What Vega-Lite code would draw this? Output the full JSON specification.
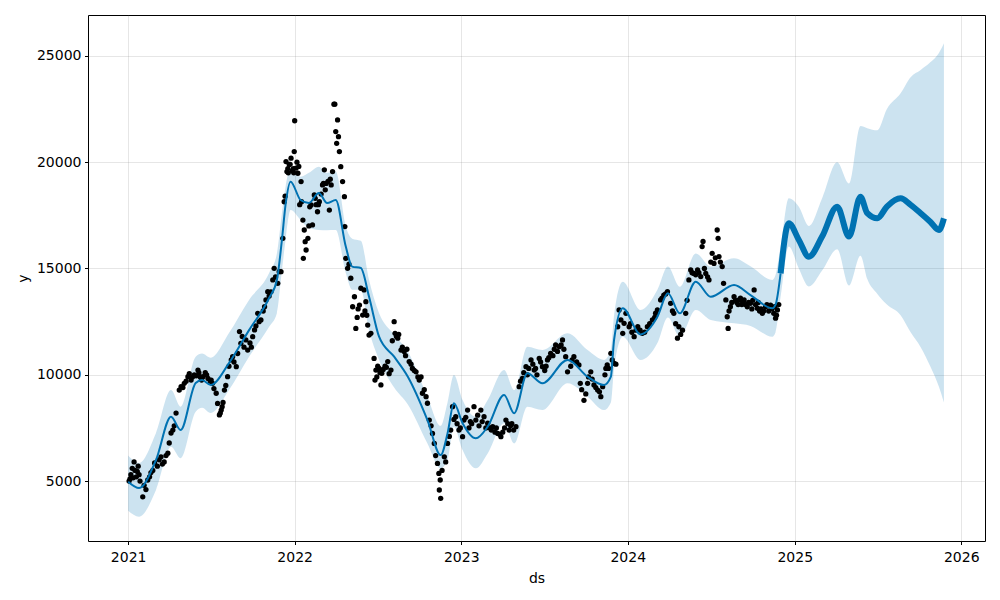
{
 "$schema": "https://vega.github.io/schema/vega-lite/v6.json",
 "width": 897, "height": 526,
 "autosize": {"type": "none"},
 "padding": {"left": 88, "top": 15, "right": 15, "bottom": 59},
 "background": "white",
 "config": {
  "view": {"stroke": "black", "strokeWidth": 1},
  "font": "DejaVu Sans",
  "axis": {"domain": false, "grid": true, "gridColor": "#808080", "gridOpacity": 0.2, "gridWidth": 1,
   "tickColor": "black", "tickSize": 3.5, "tickWidth": 1, "labelFontSize": 14, "labelColor": "black",
   "titleFontSize": 14, "titleFontWeight": "normal", "titleColor": "black", "labelFont": "DejaVu Sans", "titleFont": "DejaVu Sans"}
 },
 "datasets": {
  "obs": [
   {"ds":"2021-01-03","y":5000},{"ds":"2021-01-05","y":5100},{"ds":"2021-01-10","y":5600},{"ds":"2021-01-14","y":5900},
   {"ds":"2021-01-16","y":5500},{"ds":"2021-01-19","y":5200},{"ds":"2021-01-23","y":5700},{"ds":"2021-01-25","y":5300},
   {"ds":"2021-01-27","y":5000},{"ds":"2021-02-02","y":4260},{"ds":"2021-02-05","y":4800},{"ds":"2021-02-13","y":5050},
   {"ds":"2021-02-20","y":5400},{"ds":"2021-02-28","y":5850},{"ds":"2021-03-06","y":5700},{"ds":"2021-03-14","y":6140},
   {"ds":"2021-03-21","y":5900},{"ds":"2021-03-29","y":6310},{"ds":"2021-04-01","y":6790},{"ds":"2021-04-05","y":7260},
   {"ds":"2021-04-09","y":7400},{"ds":"2021-04-12","y":7600},{"ds":"2021-04-16","y":8200},{"ds":"2021-04-23","y":9280},
   {"ds":"2021-04-27","y":9440},{"ds":"2021-05-04","y":9600},{"ds":"2021-05-12","y":9910},{"ds":"2021-05-19","y":9750},
   {"ds":"2021-05-26","y":10000},{"ds":"2021-06-03","y":10220},{"ds":"2021-06-08","y":9900},{"ds":"2021-06-14","y":9910},
   {"ds":"2021-06-19","y":10100},{"ds":"2021-06-25","y":9830},{"ds":"2021-06-30","y":9700},{"ds":"2021-07-05","y":9600},
   {"ds":"2021-07-08","y":9350},{"ds":"2021-07-13","y":9130},{"ds":"2021-07-16","y":8650},{"ds":"2021-07-20","y":8110},
   {"ds":"2021-07-24","y":8340},{"ds":"2021-07-26","y":8500},{"ds":"2021-07-31","y":9280},{"ds":"2021-08-07","y":9910},
   {"ds":"2021-08-10","y":10400},{"ds":"2021-08-15","y":10700},{"ds":"2021-08-18","y":10850},{"ds":"2021-08-26","y":10380},
   {"ds":"2021-09-02","y":12030},{"ds":"2021-09-05","y":11480},{"ds":"2021-09-12","y":11300},{"ds":"2021-09-16","y":11640},
   {"ds":"2021-09-20","y":11160},{"ds":"2021-09-25","y":11500},{"ds":"2021-10-01","y":11790},{"ds":"2021-10-05","y":12110},
   {"ds":"2021-10-12","y":12890},{"ds":"2021-10-15","y":12500},{"ds":"2021-10-19","y":12580},{"ds":"2021-10-24","y":13000},
   {"ds":"2021-10-30","y":13520},{"ds":"2021-11-03","y":13910},{"ds":"2021-11-06","y":13700},{"ds":"2021-11-14","y":14460},
   {"ds":"2021-11-17","y":15010},{"ds":"2021-11-25","y":14300},{"ds":"2021-11-28","y":14850},{"ds":"2021-12-02","y":14850},
   {"ds":"2021-12-06","y":16420},{"ds":"2021-12-09","y":18140},{"ds":"2021-12-11","y":18400},{"ds":"2021-12-13","y":20030},
   {"ds":"2021-12-15","y":19560},{"ds":"2021-12-20","y":19900},{"ds":"2021-12-24","y":20190},{"ds":"2021-12-27","y":19600},
   {"ds":"2021-12-31","y":20500},{"ds":"2022-01-01","y":21950},{"ds":"2022-01-04","y":19720},{"ds":"2022-01-08","y":19480},
   {"ds":"2022-01-10","y":19800},{"ds":"2022-01-15","y":19090},{"ds":"2022-01-16","y":18140},{"ds":"2022-01-19","y":17280},
   {"ds":"2022-01-20","y":15480},{"ds":"2022-01-22","y":16810},{"ds":"2022-01-24","y":16260},{"ds":"2022-01-26","y":15870},
   {"ds":"2022-01-30","y":16420},{"ds":"2022-02-01","y":17000},{"ds":"2022-02-06","y":17990},{"ds":"2022-02-09","y":17050},
   {"ds":"2022-02-13","y":18460},{"ds":"2022-02-17","y":18000},{"ds":"2022-02-20","y":17670},{"ds":"2022-02-24","y":18140},
   {"ds":"2022-02-28","y":18500},{"ds":"2022-03-03","y":18930},{"ds":"2022-03-07","y":19640},{"ds":"2022-03-11","y":19000},
   {"ds":"2022-03-18","y":17750},{"ds":"2022-03-22","y":18930},{"ds":"2022-03-25","y":19560},{"ds":"2022-03-28","y":22730},
   {"ds":"2022-03-30","y":22730},{"ds":"2022-04-01","y":21440},{"ds":"2022-04-03","y":20890},{"ds":"2022-04-05","y":21990},
   {"ds":"2022-04-07","y":21200},{"ds":"2022-04-09","y":20500},{"ds":"2022-04-12","y":19790},{"ds":"2022-04-16","y":19090},
   {"ds":"2022-04-20","y":18380},{"ds":"2022-04-21","y":16970},{"ds":"2022-04-23","y":15480},{"ds":"2022-04-27","y":15010},
   {"ds":"2022-04-30","y":15200},{"ds":"2022-05-04","y":14540},{"ds":"2022-05-08","y":13200},{"ds":"2022-05-12","y":13670},
   {"ds":"2022-05-15","y":12180},{"ds":"2022-05-23","y":13280},{"ds":"2022-05-26","y":14070},{"ds":"2022-05-30","y":12810},
   {"ds":"2022-06-02","y":13990},{"ds":"2022-06-06","y":13440},{"ds":"2022-06-10","y":12340},{"ds":"2022-06-13","y":11870},
   {"ds":"2022-06-17","y":11950},{"ds":"2022-06-24","y":10770},{"ds":"2022-06-26","y":9750},{"ds":"2022-06-28","y":10220},
   {"ds":"2022-07-05","y":10300},{"ds":"2022-07-09","y":9520},{"ds":"2022-07-11","y":10070},{"ds":"2022-07-18","y":10400},
   {"ds":"2022-07-24","y":10620},{"ds":"2022-07-31","y":10220},{"ds":"2022-08-07","y":12500},{"ds":"2022-08-09","y":11950},
   {"ds":"2022-08-15","y":11720},{"ds":"2022-08-17","y":11900},{"ds":"2022-08-22","y":11160},{"ds":"2022-08-29","y":11090},
   {"ds":"2022-09-04","y":11200},{"ds":"2022-09-09","y":10620},{"ds":"2022-09-16","y":10300},{"ds":"2022-09-24","y":10140},
   {"ds":"2022-10-01","y":9750},{"ds":"2022-10-05","y":9900},{"ds":"2022-10-08","y":9130},{"ds":"2022-10-16","y":8970},
   {"ds":"2022-10-19","y":8660},{"ds":"2022-10-23","y":7870},{"ds":"2022-10-27","y":7600},{"ds":"2022-10-30","y":7240},
   {"ds":"2022-11-03","y":6770},{"ds":"2022-11-06","y":6200},{"ds":"2022-11-10","y":5830},{"ds":"2022-11-13","y":5360},
   {"ds":"2022-11-14","y":4580},{"ds":"2022-11-16","y":5050},{"ds":"2022-11-17","y":4190},{"ds":"2022-11-20","y":5500},
   {"ds":"2022-11-25","y":6140},{"ds":"2022-11-28","y":5900},{"ds":"2022-12-02","y":6770},{"ds":"2022-12-09","y":7400},
   {"ds":"2022-12-13","y":8500},{"ds":"2022-12-16","y":7900},{"ds":"2022-12-20","y":8030},{"ds":"2022-12-27","y":7400},
   {"ds":"2023-01-04","y":7090},{"ds":"2023-01-07","y":7870},{"ds":"2023-01-15","y":8340},{"ds":"2023-01-18","y":7500},
   {"ds":"2023-01-24","y":7700},{"ds":"2023-01-29","y":8500},{"ds":"2023-02-02","y":7870},{"ds":"2023-02-09","y":7600},
   {"ds":"2023-02-13","y":8340},{"ds":"2023-02-20","y":8030},{"ds":"2023-02-28","y":7720},{"ds":"2023-03-05","y":7500},
   {"ds":"2023-03-11","y":7560},{"ds":"2023-03-16","y":7300},{"ds":"2023-03-22","y":7240},{"ds":"2023-03-29","y":7090},
   {"ds":"2023-04-02","y":7300},{"ds":"2023-04-09","y":7870},{"ds":"2023-04-16","y":7400},{"ds":"2023-04-22","y":7700},
   {"ds":"2023-05-01","y":7560},{"ds":"2023-05-08","y":9440},{"ds":"2023-05-15","y":9830},{"ds":"2023-05-18","y":10100},
   {"ds":"2023-05-23","y":10380},{"ds":"2023-05-29","y":10300},{"ds":"2023-06-03","y":10700},{"ds":"2023-06-10","y":10220},
   {"ds":"2023-06-16","y":10000},{"ds":"2023-06-21","y":10770},{"ds":"2023-06-28","y":10380},{"ds":"2023-07-03","y":10200},
   {"ds":"2023-07-09","y":10700},{"ds":"2023-07-16","y":11010},{"ds":"2023-07-21","y":10900},{"ds":"2023-07-27","y":11400},
   {"ds":"2023-08-04","y":11320},{"ds":"2023-08-11","y":11640},{"ds":"2023-08-18","y":10850},{"ds":"2023-08-22","y":10140},
   {"ds":"2023-08-29","y":10400},{"ds":"2023-09-05","y":10850},{"ds":"2023-09-11","y":10600},{"ds":"2023-09-16","y":10460},
   {"ds":"2023-09-22","y":9300},{"ds":"2023-09-27","y":8800},{"ds":"2023-10-01","y":9100},{"ds":"2023-10-05","y":9600},
   {"ds":"2023-10-07","y":9900},{"ds":"2023-10-12","y":10140},{"ds":"2023-10-19","y":9520},{"ds":"2023-10-27","y":9280},
   {"ds":"2023-11-03","y":8970},{"ds":"2023-11-07","y":9440},{"ds":"2023-11-12","y":10000},{"ds":"2023-11-17","y":10460},
   {"ds":"2023-11-20","y":10300},{"ds":"2023-11-25","y":11010},{"ds":"2023-12-02","y":10540},{"ds":"2023-12-06","y":10500},
   {"ds":"2023-12-10","y":12260},{"ds":"2023-12-13","y":13050},{"ds":"2023-12-17","y":12580},{"ds":"2023-12-21","y":11950},
   {"ds":"2023-12-24","y":12420},{"ds":"2023-12-28","y":12890},{"ds":"2024-01-04","y":12260},{"ds":"2024-01-10","y":12000},
   {"ds":"2024-01-15","y":11790},{"ds":"2024-01-23","y":12260},{"ds":"2024-01-28","y":12100},{"ds":"2024-02-02","y":11950},
   {"ds":"2024-02-07","y":12000},{"ds":"2024-02-13","y":12260},{"ds":"2024-02-18","y":12400},{"ds":"2024-02-24","y":12580},
   {"ds":"2024-02-29","y":12700},{"ds":"2024-03-06","y":13050},{"ds":"2024-03-13","y":13520},{"ds":"2024-03-20","y":13750},
   {"ds":"2024-03-28","y":13910},{"ds":"2024-04-04","y":13360},{"ds":"2024-04-11","y":12890},{"ds":"2024-04-19","y":11720},
   {"ds":"2024-04-22","y":12260},{"ds":"2024-04-30","y":12100},{"ds":"2024-05-07","y":12890},{"ds":"2024-05-14","y":14460},
   {"ds":"2024-05-18","y":14930},{"ds":"2024-05-25","y":14770},{"ds":"2024-06-02","y":14930},{"ds":"2024-06-09","y":14620},
   {"ds":"2024-06-12","y":16030},{"ds":"2024-06-14","y":16270},{"ds":"2024-06-20","y":14770},{"ds":"2024-06-27","y":14460},
   {"ds":"2024-07-04","y":15710},{"ds":"2024-07-08","y":15240},{"ds":"2024-07-15","y":16810},{"ds":"2024-07-17","y":16420},
   {"ds":"2024-07-19","y":15560},{"ds":"2024-07-26","y":15090},{"ds":"2024-07-29","y":14300},{"ds":"2024-08-03","y":13520},
   {"ds":"2024-08-06","y":12730},{"ds":"2024-08-08","y":12180},{"ds":"2024-08-13","y":13200},{"ds":"2024-08-21","y":13670},
   {"ds":"2024-08-27","y":13400},{"ds":"2024-09-01","y":13520},{"ds":"2024-09-07","y":13300},{"ds":"2024-09-12","y":13520},
   {"ds":"2024-09-19","y":13200},{"ds":"2024-09-26","y":13360},{"ds":"2024-10-04","y":13990},{"ds":"2024-10-11","y":13130},
   {"ds":"2024-10-16","y":13000},{"ds":"2024-10-22","y":12890},{"ds":"2024-10-29","y":13200},{"ds":"2024-11-05","y":13000},
   {"ds":"2024-11-09","y":13280},{"ds":"2024-11-16","y":12890},{"ds":"2024-11-20","y":12660},{"ds":"2024-11-24","y":13050},
   {"ds":"2024-11-27","y":13300},
   {"ds":"2021-01-07","y":5300},{"ds":"2021-01-12","y":5150},{"ds":"2021-01-21","y":5450},{"ds":"2021-02-09","y":4600},
   {"ds":"2021-02-17","y":5200},{"ds":"2021-02-24","y":5500},{"ds":"2021-03-10","y":6000},{"ds":"2021-03-17","y":5800},
   {"ds":"2021-03-25","y":6200},{"ds":"2021-05-01","y":9400},{"ds":"2021-05-08","y":9700},{"ds":"2021-05-15","y":10050},
   {"ds":"2021-05-22","y":9900},{"ds":"2021-05-30","y":9950},{"ds":"2021-06-05","y":10100},{"ds":"2021-06-11","y":9750},
   {"ds":"2021-06-22","y":10000},{"ds":"2021-07-02","y":9750},{"ds":"2021-07-22","y":8200},{"ds":"2021-07-28","y":8700},
   {"ds":"2021-08-03","y":9500},{"ds":"2021-08-21","y":10600},{"ds":"2021-08-29","y":11000},{"ds":"2021-09-08","y":11800},
   {"ds":"2021-09-28","y":11300},{"ds":"2021-10-08","y":12300},{"ds":"2021-10-27","y":13200},{"ds":"2021-11-10","y":13900},
   {"ds":"2021-11-20","y":14600},{"ds":"2021-12-17","y":19700},{"ds":"2021-12-18","y":19500},{"ds":"2021-12-22","y":19900},
   {"ds":"2021-12-29","y":19700},{"ds":"2021-12-30","y":19500},{"ds":"2022-01-06","y":20000},{"ds":"2022-01-12","y":18000},
   {"ds":"2022-02-03","y":17900},{"ds":"2022-02-15","y":18300},{"ds":"2022-02-22","y":18000},{"ds":"2022-03-05","y":19000},
   {"ds":"2022-03-09","y":18700},{"ds":"2022-03-15","y":19100},{"ds":"2022-03-20","y":19200},{"ds":"2022-05-18","y":12700},
   {"ds":"2022-05-20","y":13100},{"ds":"2022-06-04","y":13000},{"ds":"2022-06-08","y":12800},{"ds":"2022-06-30","y":9900},
   {"ds":"2022-07-02","y":10400},{"ds":"2022-07-07","y":10100},{"ds":"2022-07-14","y":10250},{"ds":"2022-07-21","y":10350},
   {"ds":"2022-07-27","y":10050},{"ds":"2022-08-03","y":11600},{"ds":"2022-08-12","y":11800},{"ds":"2022-08-25","y":11300},
   {"ds":"2022-09-01","y":10900},{"ds":"2022-09-13","y":10500},{"ds":"2022-09-20","y":10200},{"ds":"2022-09-28","y":9900},
   {"ds":"2022-10-12","y":9300},{"ds":"2022-12-06","y":7100},{"ds":"2022-12-23","y":7700},{"ds":"2022-12-30","y":7500},
   {"ds":"2023-01-11","y":8000},{"ds":"2023-01-21","y":7800},{"ds":"2023-02-06","y":8100},{"ds":"2023-02-16","y":7800},
   {"ds":"2023-02-24","y":7500},{"ds":"2023-03-08","y":7400},{"ds":"2023-03-19","y":7500},{"ds":"2023-03-26","y":7200},
   {"ds":"2023-04-06","y":7500},{"ds":"2023-04-13","y":7700},{"ds":"2023-04-19","y":7600},{"ds":"2023-04-26","y":7400},
   {"ds":"2023-05-11","y":9700},{"ds":"2023-05-26","y":10000},{"ds":"2023-06-07","y":10500},{"ds":"2023-06-13","y":10300},
   {"ds":"2023-06-24","y":10600},{"ds":"2023-07-06","y":10400},{"ds":"2023-07-12","y":10800},{"ds":"2023-07-24","y":11200},
   {"ds":"2023-07-31","y":11100},{"ds":"2023-08-08","y":11400},{"ds":"2023-08-14","y":11200},{"ds":"2023-09-01","y":10700},
   {"ds":"2023-09-19","y":9600},{"ds":"2023-10-15","y":9800},{"ds":"2023-10-23","y":9400},{"ds":"2023-10-31","y":9200},
   {"ds":"2023-11-14","y":10300},{"ds":"2023-11-28","y":10700},{"ds":"2024-01-07","y":12400},{"ds":"2024-01-19","y":12100},
   {"ds":"2024-03-02","y":12900},{"ds":"2024-03-16","y":13600},{"ds":"2024-03-24","y":13800},{"ds":"2024-04-08","y":13000},
   {"ds":"2024-04-15","y":12400},{"ds":"2024-04-26","y":11900},{"ds":"2024-05-10","y":13500},{"ds":"2024-05-21","y":14800},
   {"ds":"2024-05-29","y":14700},{"ds":"2024-06-05","y":14800},{"ds":"2024-06-17","y":15000},{"ds":"2024-06-24","y":14600},
   {"ds":"2024-07-01","y":15300},{"ds":"2024-07-11","y":15500},{"ds":"2024-07-22","y":15300},{"ds":"2024-08-10","y":13000},
   {"ds":"2024-08-16","y":13400},{"ds":"2024-08-24","y":13500},{"ds":"2024-08-30","y":13300},{"ds":"2024-09-04","y":13600},
   {"ds":"2024-09-09","y":13400},{"ds":"2024-09-15","y":13300},{"ds":"2024-09-22","y":13400},{"ds":"2024-09-29","y":13100},
   {"ds":"2024-10-01","y":13500},{"ds":"2024-10-07","y":13300},{"ds":"2024-10-13","y":13400},{"ds":"2024-10-19","y":13100},
   {"ds":"2024-10-25","y":13000},{"ds":"2024-11-01","y":13300},{"ds":"2024-11-12","y":13100},{"ds":"2024-11-18","y":13200},
   {"ds":"2024-11-22","y":12800}
  ],
  "fc": [
   {"ds":"2021-01-01","yhat":4970,"lo":3600,"hi":6200},
   {"ds":"2021-01-25","yhat":4670,"lo":3320,"hi":5850},
   {"ds":"2021-03-03","yhat":5990,"lo":4580,"hi":7260},
   {"ds":"2021-04-05","yhat":8025,"lo":6610,"hi":9280},
   {"ds":"2021-04-26","yhat":7400,"lo":6070,"hi":8500},
   {"ds":"2021-05-29","yhat":9610,"lo":8260,"hi":10850},
   {"ds":"2021-06-12","yhat":9750,"lo":8450,"hi":11000},
   {"ds":"2021-07-01","yhat":9520,"lo":8200,"hi":10800},
   {"ds":"2021-08-10","yhat":10550,"lo":9280,"hi":11960},
   {"ds":"2021-09-23","yhat":12100,"lo":10850,"hi":13520},
   {"ds":"2021-11-06","yhat":13610,"lo":12260,"hi":14790},
   {"ds":"2021-11-23","yhat":14460,"lo":12900,"hi":15700},
   {"ds":"2021-12-04","yhat":16340,"lo":14900,"hi":17600},
   {"ds":"2021-12-12","yhat":18000,"lo":16340,"hi":18850},
   {"ds":"2021-12-23","yhat":19085,"lo":17750,"hi":19700},
   {"ds":"2022-01-14","yhat":18220,"lo":17280,"hi":19320},
   {"ds":"2022-02-01","yhat":18080,"lo":16900,"hi":19500},
   {"ds":"2022-02-23","yhat":18550,"lo":16810,"hi":19790},
   {"ds":"2022-03-13","yhat":18080,"lo":16800,"hi":19500},
   {"ds":"2022-04-01","yhat":18220,"lo":16810,"hi":19560},
   {"ds":"2022-04-23","yhat":16030,"lo":14790,"hi":16970},
   {"ds":"2022-05-07","yhat":15090,"lo":14000,"hi":16400},
   {"ds":"2022-05-26","yhat":15020,"lo":14000,"hi":16300},
   {"ds":"2022-06-13","yhat":13670,"lo":12110,"hi":14460},
   {"ds":"2022-07-05","yhat":11790,"lo":10700,"hi":12900},
   {"ds":"2022-08-07","yhat":10850,"lo":9400,"hi":11900},
   {"ds":"2022-09-06","yhat":9910,"lo":8600,"hi":11100},
   {"ds":"2022-10-19","yhat":7870,"lo":6770,"hi":8970},
   {"ds":"2022-11-17","yhat":6220,"lo":5600,"hi":7600},
   {"ds":"2022-12-02","yhat":7240,"lo":6000,"hi":8700},
   {"ds":"2022-12-16","yhat":8660,"lo":7560,"hi":9990},
   {"ds":"2023-01-04","yhat":7720,"lo":6460,"hi":8810},
   {"ds":"2023-02-02","yhat":7010,"lo":5600,"hi":8030},
   {"ds":"2023-02-28","yhat":7560,"lo":6300,"hi":8810},
   {"ds":"2023-04-05","yhat":9050,"lo":7720,"hi":10220},
   {"ds":"2023-04-27","yhat":8190,"lo":6770,"hi":9280},
   {"ds":"2023-05-26","yhat":10070,"lo":8500,"hi":11320},
   {"ds":"2023-06-28","yhat":9600,"lo":8340,"hi":11160},
   {"ds":"2023-08-22","yhat":10700,"lo":9600,"hi":11950},
   {"ds":"2023-10-05","yhat":9910,"lo":8970,"hi":11160},
   {"ds":"2023-11-10","yhat":9520,"lo":8340,"hi":10700},
   {"ds":"2023-11-25","yhat":9910,"lo":8700,"hi":11200},
   {"ds":"2023-12-02","yhat":11640,"lo":10300,"hi":12800},
   {"ds":"2023-12-21","yhat":13130,"lo":11790,"hi":14380},
   {"ds":"2024-01-29","yhat":11900,"lo":10700,"hi":13050},
   {"ds":"2024-03-06","yhat":12730,"lo":11500,"hi":14000},
   {"ds":"2024-03-29","yhat":13830,"lo":12700,"hi":15090},
   {"ds":"2024-04-24","yhat":12890,"lo":11790,"hi":14140},
   {"ds":"2024-05-29","yhat":14380,"lo":13050,"hi":15710},
   {"ds":"2024-07-01","yhat":13670,"lo":12580,"hi":15090},
   {"ds":"2024-08-21","yhat":14220,"lo":12420,"hi":15480},
   {"ds":"2024-09-26","yhat":13750,"lo":12300,"hi":15100},
   {"ds":"2024-11-13","yhat":13130,"lo":11790,"hi":14460},
   {"ds":"2024-11-20","yhat":13300,"lo":12000,"hi":14700},
   {"ds":"2024-12-01","yhat":14770,"lo":13670,"hi":16030},
   {"ds":"2024-12-19","yhat":17130,"lo":16030,"hi":18300},
   {"ds":"2025-01-10","yhat":16340,"lo":15000,"hi":17900},
   {"ds":"2025-02-01","yhat":15555,"lo":14150,"hi":17000},
   {"ds":"2025-03-02","yhat":16500,"lo":14900,"hi":18300},
   {"ds":"2025-04-04","yhat":17910,"lo":15900,"hi":20000},
   {"ds":"2025-04-30","yhat":16500,"lo":14200,"hi":19000},
   {"ds":"2025-05-25","yhat":18380,"lo":15600,"hi":21700},
   {"ds":"2025-06-09","yhat":17600,"lo":14500,"hi":21600},
   {"ds":"2025-07-01","yhat":17360,"lo":13800,"hi":21500},
   {"ds":"2025-07-22","yhat":17910,"lo":13300,"hi":22500},
   {"ds":"2025-08-21","yhat":18300,"lo":12800,"hi":23240},
   {"ds":"2025-09-12","yhat":17990,"lo":12000,"hi":24000},
   {"ds":"2025-10-04","yhat":17600,"lo":11300,"hi":24340},
   {"ds":"2025-10-25","yhat":17200,"lo":10400,"hi":24700},
   {"ds":"2025-11-13","yhat":16810,"lo":9440,"hi":25140},
   {"ds":"2025-11-24","yhat":17360,"lo":8700,"hi":25600}
  ]
 },
 "layer": [
  {
   "data": {"name": "fc"},
   "mark": {"type": "area", "color": "#0072B2", "opacity": 0.2, "interpolate": "monotone"},
   "encoding": {
    "x": {"field": "ds", "type": "temporal", "title": "ds",
     "scale": {"type": "utc", "domain": [{"year": 2020, "month": 10, "date": 5, "utc": true}, {"year": 2026, "month": 2, "date": 22, "utc": true}]},
     "axis": {"values": [{"year": 2021, "month": 1, "date": 1, "utc": true}, {"year": 2022, "month": 1, "date": 1, "utc": true}, {"year": 2023, "month": 1, "date": 1, "utc": true}, {"year": 2024, "month": 1, "date": 1, "utc": true}, {"year": 2025, "month": 1, "date": 1, "utc": true}, {"year": 2026, "month": 1, "date": 1, "utc": true}],
      "format": "%Y", "labelPadding": 5.5, "titlePadding": 7}},
    "y": {"field": "lo", "type": "quantitative", "title": "y",
     "scale": {"domain": [2180, 26925], "nice": false, "zero": false},
     "axis": {"values": [5000, 10000, 15000, 20000, 25000], "format": "d", "labelPadding": 3.5, "titlePadding": 6}},
    "y2": {"field": "hi"}
   }
  },
  {
   "data": {"name": "obs"},
   "mark": {"type": "circle", "color": "black", "opacity": 1, "size": 28},
   "encoding": {
    "x": {"field": "ds", "type": "temporal", "title": "ds"},
    "y": {"field": "y", "type": "quantitative", "title": "y"}
   }
  },
  {
   "data": {"name": "fc"},
   "transform": [{"filter": {"field": "ds", "lte": {"year": 2024, "month": 12, "date": 1, "utc": true}}}],
   "mark": {"type": "line", "color": "#0072B2", "strokeWidth": 2, "interpolate": "monotone"},
   "encoding": {
    "x": {"field": "ds", "type": "temporal", "title": "ds"},
    "y": {"field": "yhat", "type": "quantitative", "title": "y"}
   }
  },
  {
   "data": {"name": "fc"},
   "transform": [{"filter": {"field": "ds", "gte": {"year": 2024, "month": 12, "date": 1, "utc": true}}}],
   "mark": {"type": "line", "color": "#0072B2", "strokeWidth": 6, "interpolate": "monotone"},
   "encoding": {
    "x": {"field": "ds", "type": "temporal", "title": "ds"},
    "y": {"field": "yhat", "type": "quantitative", "title": "y"}
   }
  }
 ]
}
